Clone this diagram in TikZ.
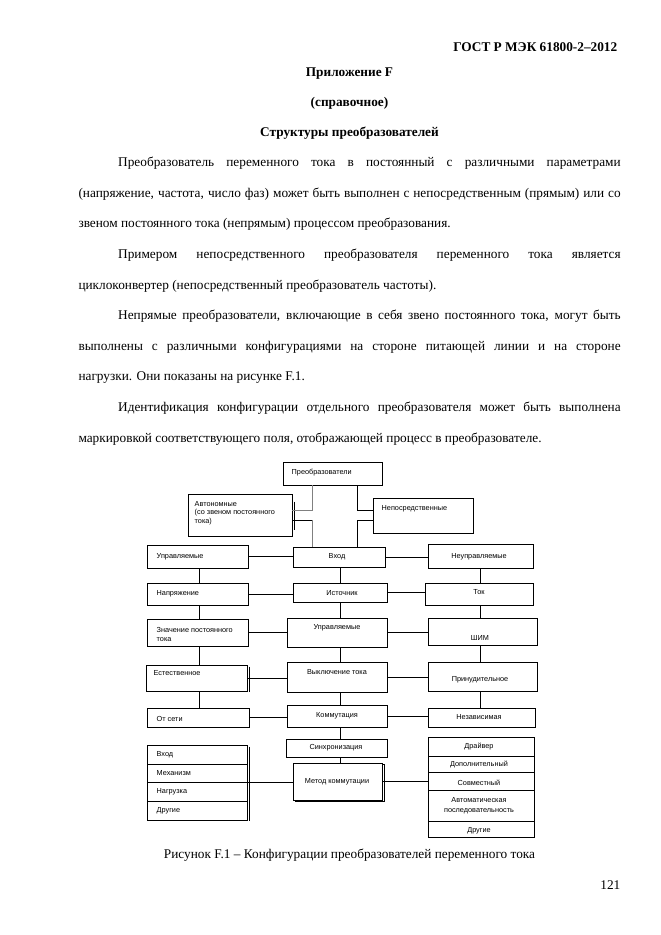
\documentclass[tikz,border=0pt]{standalone}
\usepackage{fontspec}
\setmainfont{Liberation Serif}
\newfontfamily\diagfont{Liberation Sans}
\usetikzlibrary{shadows}
\newcommand{\mkbox}[6][]{\node[box,#1,minimum width={(#4)-(#2)},minimum height={(#5)-(#3)}] (#6) at ({((#2)+(#4))/2},{((#3)+(#5))/2}) {};}
\begin{document}
\begin{tikzpicture}[x=1pt,y=-1pt,
  box/.style={draw=black, line width=0.7pt, fill=white, inner sep=0pt, rectangle},
  dsh/.style={drop shadow={shadow xshift=1.1pt, shadow yshift=-1.1pt, opacity=1, fill=black}},
  csh/.style={copy shadow={shadow xshift=2.2pt, shadow yshift=-1.6pt}},
  lbl/.style={font=\diagfont\fontsize{7.3}{8.4}\selectfont, inner sep=0pt},
  conn/.style={line width=0.7pt, draw=black},
  gconn/.style={line width=0.7pt, draw=black!50},
  body/.style={font=\fontsize{13.3}{16}\selectfont, inner sep=0pt, anchor=base west},
  ttl/.style={font=\bfseries\fontsize{13.3}{16}\selectfont, inner sep=0pt, anchor=base},
  captxt/.style={font=\fontsize{13.3}{16}\selectfont, inner sep=0pt, anchor=base}]
\useasboundingbox[fill=white] (0,0) rectangle (661,935);

% ---------- page text ----------
\node[ttl, anchor=base east] (hdr) at (617.5,51) {ГОСТ Р МЭК 61800-2–2012};
\node[ttl] (t1) at (349.5,76.5) {Приложение F};
\node[ttl] (t2) at (349.5,106) {(справочное)};
\node[ttl] (t3) at (349.5,136) {Структуры преобразователей};

\node[body] (p1) at (118,166.5) {\makebox[502.5pt][s]{Преобразователь переменного тока в постоянный с различными параметрами}};
\node[body] (p2) at (78.3,197.3) {\makebox[542.2pt][s]{(напряжение, частота, число фаз) может быть выполнен с непосредственным (прямым) или со}};
\node[body] (p3) at (78.3,227.8) {звеном постоянного тока (непрямым) процессом преобразования.};
\node[body] (p4) at (118,258.6) {\makebox[502.5pt][s]{Примером непосредственного преобразователя переменного тока является}};
\node[body] (p5) at (78.3,289.2) {циклоконвертер (непосредственный преобразователь частоты).};
\node[body] (p6) at (118,319.8) {\makebox[502.5pt][s]{Непрямые преобразователи, включающие в себя звено постоянного тока, могут быть}};
\node[body] (p7) at (78.3,350.4) {\makebox[542.2pt][s]{выполнены с различными конфигурациями на стороне питающей линии и на стороне}};
\node[body] (p8) at (78.3,380.9) {нагрузки. Они показаны на рисунке F.1.};
\node[body] (p9) at (118,411.5) {\makebox[502.5pt][s]{Идентификация конфигурации отдельного преобразователя может быть выполнена}};
\node[body] (p10) at (78.3,442) {маркировкой соответствующего поля, отображающей процесс в преобразователе.};

\node[captxt] (caption) at (349.5,858.5) {Рисунок F.1 – Конфигурации преобразователей переменного тока};
\node[captxt, anchor=base east] (pnum) at (620.5,889) {121};

% ---------- boxes ----------
\mkbox[dsh]{283}{462}{382}{485}{conv}
\mkbox{188}{494}{292}{536}{auto}
\mkbox[dsh]{373}{498}{473}{533}{direct}
\mkbox{293}{547}{385}{567}{in}
\mkbox[dsh]{147}{545}{248}{568}{ctrlL}
\mkbox[dsh]{428}{544}{533}{568}{unctrl}
\mkbox{147}{583}{248}{605}{volt}
\mkbox[dsh]{293}{583}{387}{602}{src}
\mkbox{425}{583}{533}{605}{cur}
\mkbox{147}{619}{248}{646}{dcval}
\mkbox{287}{618}{387}{647}{ctrlC}
\mkbox[dsh]{428}{618}{537}{645}{pwm}
\mkbox{146}{665}{247}{691}{nat}
\mkbox{287}{662}{387}{692}{off}
\mkbox[dsh]{428}{662}{537}{691}{forced}
\mkbox[dsh]{147}{708}{249}{727}{grid}
\mkbox[dsh]{287}{705}{387}{727}{comm}
\mkbox[dsh]{428}{708}{535}{727}{indep}
\mkbox{286}{739}{387}{757}{sync}
\mkbox[csh]{293}{763}{382}{800}{method}
\mkbox{147}{745}{247}{820}{leftlist}
\mkbox{428}{737}{534}{837}{rightlist}

% double right edges
\draw[line width=0.7pt] ([xshift=2.2pt,yshift=-8pt]auto.north east) -- ([xshift=2.2pt,yshift=6pt]auto.south east);
\draw[line width=0.7pt] ([xshift=2.4pt,yshift=-2pt]nat.north east) -- ([xshift=2.4pt,yshift=-1pt]nat.south east);
\draw[line width=0.7pt] ([xshift=2.2pt,yshift=-2pt]leftlist.north east) -- ([xshift=2.2pt,yshift=-1pt]leftlist.south east);

% list dividers
\foreach \yy in {764,782.7,801} \draw[line width=0.7pt] (147,\yy) -- (247,\yy);
\foreach \yy in {756,772.7,790,821.7} \draw[line width=0.7pt] (428,\yy) -- (534,\yy);

% ---------- labels ----------
\node[lbl, anchor=west] (tconv) at (291.5,472.5) {Преобразователи};
\node[lbl, anchor=west, align=left] (tauto) at (194.5,513) {Автономные\\(со звеном постоянного\\тока)};
\node[lbl, anchor=west] (tdirect) at (381.5,508.5) {Непосредственные};
\node[lbl] (tin) at (337,557) {Вход};
\node[lbl, anchor=west] (tctrlL) at (156.5,556.5) {Управляемые};
\node[lbl] (tunctrl) at (479,556.5) {Неуправляемые};
\node[lbl, anchor=west] (tvolt) at (156.5,593.5) {Напряжение};
\node[lbl] (tsrc) at (342,593.5) {Источник};
\node[lbl] (tcur) at (479,592.5) {Ток};
\node[lbl, anchor=west, align=left, font=\diagfont\fontsize{7.3}{9}\selectfont] (tdcval) at (156.5,634) {Значение постоянного\\тока};
\node[lbl] (tctrlC) at (337,627.5) {Управляемые};
\node[lbl] (tpwm) at (480,637.5) {ШИМ};
\node[lbl, anchor=west] (tnat) at (153.5,673.5) {Естественное};
\node[lbl] (toff) at (337,672.5) {Выключение тока};
\node[lbl] (tforced) at (480,679.5) {Принудительное};
\node[lbl, anchor=west] (tgrid) at (156.5,718.5) {От сети};
\node[lbl] (tcomm) at (337,715.5) {Коммутация};
\node[lbl] (tindep) at (479,717.5) {Независимая};
\node[lbl] (tsync) at (336,747.5) {Синхронизация};
\node[lbl] (tmethod) at (337,782) {Метод коммутации};

\node[lbl, anchor=west] (l1) at (156.5,754.5) {Вход};
\node[lbl, anchor=west] (l2) at (156.5,773.5) {Механизм};
\node[lbl, anchor=west] (l3) at (156.5,792) {Нагрузка};
\node[lbl, anchor=west] (l4) at (156.5,810.5) {Другие};

\node[lbl] (r1) at (479,746.5) {Драйвер};
\node[lbl] (r2) at (479,764.5) {Дополнительный};
\node[lbl] (r3) at (479,783) {Совместный};
\node[lbl, align=center, font=\diagfont\fontsize{7.3}{10}\selectfont] (r4) at (479,805.5) {Автоматическая\\последовательность};
\node[lbl] (r5) at (479,830.5) {Другие};

% ---------- connectors ----------
\coordinate (ka) at (312,510);
\coordinate (kb) at (357,510);
\coordinate (kc) at (312,520);
\coordinate (kd) at (357,520);
\coordinate (cx) at (340,0);
\coordinate (lx) at (199,0);
\coordinate (rx) at (480,0);

\draw[gconn] (conv.south -| ka) -- (ka) -- (ka -| auto.east);
\draw[conn] (conv.south -| kb) -- (kb) -- (kb -| direct.west);
\draw[conn] (kc -| auto.east) -- (kc);
\draw[gconn] (kc) -- (kc |- in.north);
\draw[conn] (kd -| direct.west) -- (kd) -- (kd |- in.north);

\draw[conn] (ctrlL.east) -- (ctrlL.east -| in.west);
\draw[conn] (in.east) -- (in.east -| unctrl.west);

\draw[conn] (in.south -| cx) -- (src.north -| cx);
\draw[conn] (src.south -| cx) -- (ctrlC.north -| cx);
\draw[conn] (ctrlC.south -| cx) -- (off.north -| cx);
\draw[conn] (off.south -| cx) -- (comm.north -| cx);
\draw[conn] (comm.south -| cx) -- (sync.north -| cx);
\draw[conn] (sync.south -| cx) -- (method.north -| cx);

\draw[conn] (ctrlL.south -| lx) -- (volt.north -| lx);
\draw[conn] (volt.south -| lx) -- (dcval.north -| lx);
\draw[conn] (dcval.south -| lx) -- (nat.north -| lx);
\draw[conn] (nat.south -| lx) -- (grid.north -| lx);

\draw[conn] (unctrl.south -| rx) -- (cur.north -| rx);
\draw[conn] (cur.south -| rx) -- (pwm.north -| rx);
\draw[conn] (pwm.south -| rx) -- (forced.north -| rx);
\draw[conn] (forced.south -| rx) -- (indep.north -| rx);

\draw[conn] (volt.east) -- (volt.east -| src.west);
\draw[conn] (src.east) -- (src.east -| cur.west);
\draw[conn] (dcval.east) -- (dcval.east -| ctrlC.west);
\draw[conn] (ctrlC.east) -- (ctrlC.east -| pwm.west);
\draw[conn] (nat.east) -- (nat.east -| off.west);
\draw[conn] (off.east) -- (off.east -| forced.west);
\draw[conn] (grid.east) -- (grid.east -| comm.west);
\draw[conn] (comm.east) -- (comm.east -| indep.west);
\draw[conn] (leftlist.east) -- (leftlist.east -| method.west);
\draw[conn] (method.east) -- (method.east -| rightlist.west);
\end{tikzpicture}
\end{document}
